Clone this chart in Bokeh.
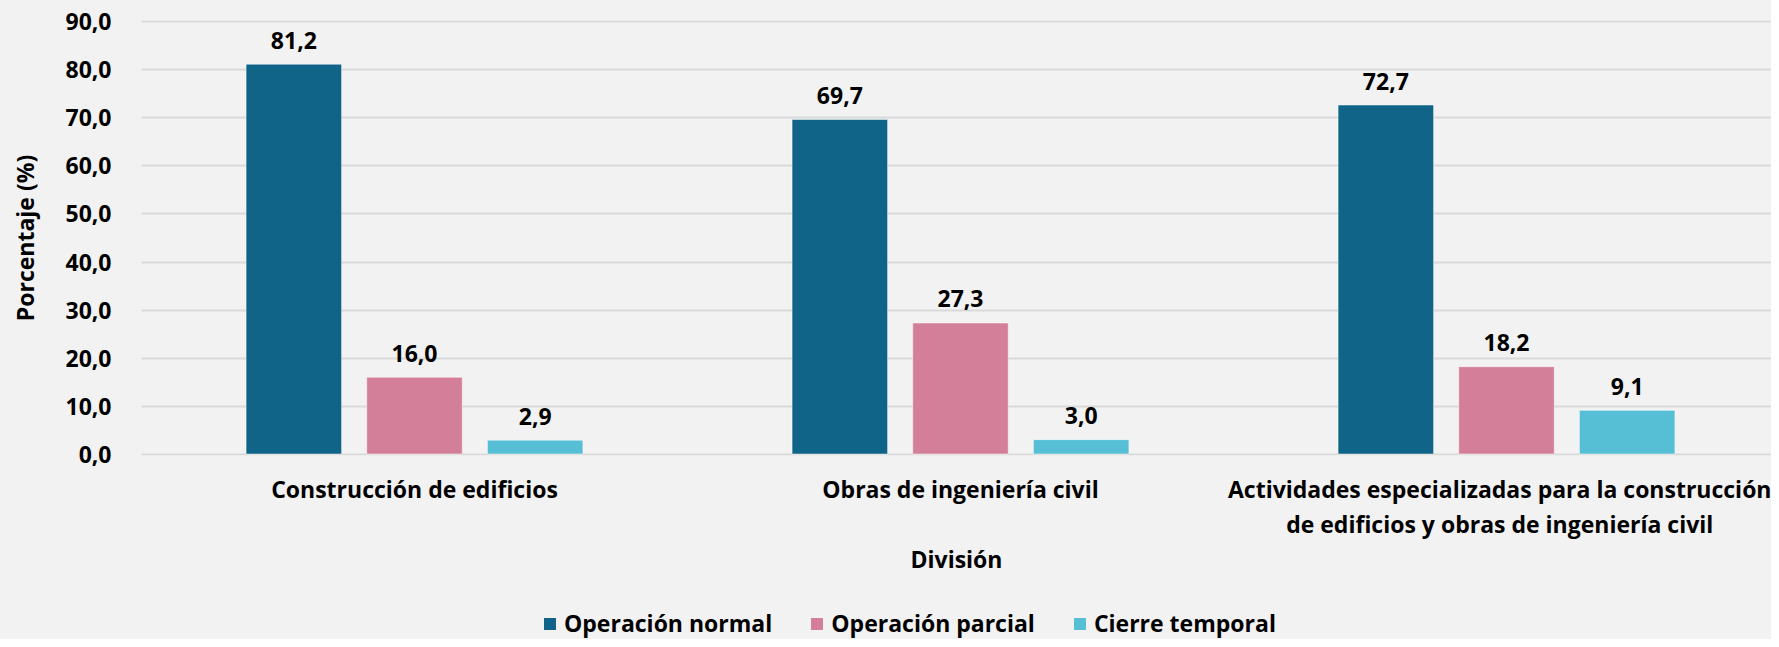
import numpy as np
from bokeh.plotting import figure
from bokeh.layouts import column
from bokeh.models import ColumnDataSource, Range1d, FixedTicker, Legend, LegendItem
from bokeh.core.properties import value
from bokeh.embed import file_html
from bokeh.resources import INLINE

categories = [
    "Construcción de edificios",
    "Obras de ingeniería civil",
    "Actividades especializadas para la construcción\nde edificios y obras de ingeniería civil",
]
series = ["Operación normal", "Operación parcial", "Cierre temporal"]
normal = [81.2, 69.7, 72.7]
parcial = [16.0, 27.3, 18.2]
cierre = [2.9, 3.0, 9.1]
y_ticks = [0, 10, 20, 30, 40, 50, 60, 70, 80, 90]

colors = ["#0F6488", "#D47F99", "#56BFD6"]
BG = "#F2F2F2"
FONT = "Open Sans"
FS = "23px"

def fmt(v):
    return f"{v:.1f}".replace(".", ",")

W = 1771
H_MAIN, H_LEG = 585, 54
LEFT, TOP, FRAME_H = 141, 20, 435
CAT_PX = 546.0
frame_w = W - LEFT

p = figure(width=W, height=H_MAIN, x_range=Range1d(0, frame_w / CAT_PX), y_range=Range1d(-0.3, 90.3),
           output_backend="svg", toolbar_location=None,
           min_border_left=LEFT, min_border_right=0, min_border_top=TOP,
           min_border_bottom=H_MAIN - TOP - FRAME_H)
p.background_fill_color = BG
p.border_fill_color = BG
p.outline_line_color = None

centers = [i + 0.5 for i in range(len(categories))]
offsets = [-0.221, 0.0, 0.221]
bar_w = 0.175

for vals, off, col in zip([normal, parcial, cierre], offsets, colors):
    src = ColumnDataSource(dict(x=[c + off for c in centers], top=vals,
                                label=[fmt(v) for v in vals]))
    p.vbar(x="x", top="top", bottom=0, width=bar_w, source=src,
           fill_color=col, line_color="white", line_alpha=0.5, line_width=1)
    p.text(x="x", y="top", text="label", source=src, text_align="center",
           text_baseline="alphabetic", y_offset=-24,
           text_font=value(FONT), text_font_style="bold", text_font_size=FS,
           text_color="black")

# axes
p.xaxis.ticker = FixedTicker(ticks=centers)
p.xaxis.major_label_overrides = {c: lab for c, lab in zip(centers, categories)}
p.xaxis.axis_line_color = None
p.xaxis.major_tick_line_color = None
p.xaxis.minor_tick_line_color = None
p.xaxis.major_label_standoff = 11
p.xaxis.major_label_text_font = FONT
p.xaxis.major_label_text_font_style = "bold"
p.xaxis.major_label_text_font_size = FS
p.xaxis.major_label_text_color = "black"
p.xaxis.major_label_text_line_height = 1.12
p.xaxis.axis_label = "División"
p.xaxis.axis_label_text_font = FONT
p.xaxis.axis_label_text_font_style = "bold"
p.xaxis.axis_label_text_font_size = FS
p.xaxis.axis_label_text_color = "black"
p.xaxis.axis_label_standoff = 0

p.yaxis.ticker = FixedTicker(ticks=y_ticks)
p.yaxis.major_label_overrides = {t: fmt(t) for t in y_ticks}
p.yaxis.axis_line_color = None
p.yaxis.major_tick_line_color = None
p.yaxis.minor_tick_line_color = None
p.yaxis.major_label_standoff = 24
p.yaxis.major_label_text_font = FONT
p.yaxis.major_label_text_font_style = "bold"
p.yaxis.major_label_text_font_size = FS
p.yaxis.major_label_text_color = "black"
p.yaxis.axis_label = "Porcentaje (%)"
p.yaxis.axis_label_text_font = FONT
p.yaxis.axis_label_text_font_style = "bold"
p.yaxis.axis_label_text_font_size = FS
p.yaxis.axis_label_text_color = "black"
p.yaxis.axis_label_standoff = 21

p.xgrid.grid_line_color = None
p.ygrid.grid_line_color = "#D9D9D9"
p.ygrid.grid_line_width = 2

# legend strip: its renderers hold no drawable point (NaN), only the legend keys show
lg = figure(width=W, height=H_LEG, x_range=Range1d(0, 1), y_range=Range1d(0, 1),
            output_backend="svg", toolbar_location=None,
            x_axis_type=None, y_axis_type=None,
            min_border_left=0, min_border_right=0, min_border_top=0, min_border_bottom=0)
lg.background_fill_color = BG
lg.border_fill_color = BG
lg.outline_line_color = None
lg.xgrid.grid_line_color = None
lg.ygrid.grid_line_color = None
leg_renderers = []
for col in colors:
    src = ColumnDataSource(dict(x=np.array([np.nan]), top=np.array([np.nan])))
    r = lg.vbar(x="x", top="top", width=0.1, source=src, fill_color=col, line_color=None)
    leg_renderers.append(r)

legend = Legend(items=[LegendItem(label=s, renderers=[r]) for s, r in zip(series, leg_renderers)],
                orientation="horizontal", location=(401, 0))
legend.glyph_width = 15
legend.glyph_height = 15
legend.label_standoff = 7
legend.spacing = 37
legend.padding = 0
legend.margin = 0
legend.border_line_color = None
legend.background_fill_alpha = 0
legend.label_text_font = FONT
legend.label_text_font_style = "bold"
legend.label_text_font_size = FS
legend.label_text_color = "black"
lg.add_layout(legend, "center")

layout = column(p, lg, spacing=0)
layout.styles = {"background-color": BG}

open("out.html", "w").write(file_html(layout, INLINE))
